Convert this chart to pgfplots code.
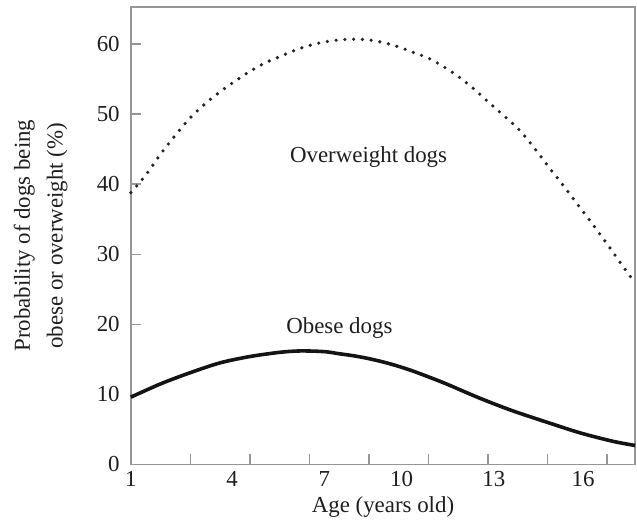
\documentclass[border=0pt]{standalone}
\usepackage{fontspec}
\setmainfont{Liberation Serif}
\usepackage{pgfplots}
\pgfplotsset{compat=1.18}
\definecolor{axgray}{RGB}{150,150,150}
\definecolor{txt}{RGB}{30,30,30}
\begin{document}
\begin{tikzpicture}
\begin{axis}[
  scale only axis, width=505bp, height=458bp,
  xmin=1, xmax=17.95, ymin=0, ymax=65.3,
  clip=false,
  font=\fontsize{23}{33}\selectfont,
  axis line style={axgray, line width=1.8bp},
  every tick/.style={axgray, line width=1.5bp},
  tick align=inside, tick pos=left,
  major tick length=10bp,
  xtick={3,5,7,9,11,13,15,17},
  xticklabels={,,,,,,,,},
  extra x ticks={1,4.4,7.5,10.1,13.2,16.2},
  extra x tick labels={1,4,7,10,13,16},
  extra x tick style={major tick length=0pt},
  ytick={0,10,20,30,40,50,60},
  /pgf/number format/assume math mode=true,
  xticklabel style={inner sep=0pt, yshift=-7bp, txt, font=\fontsize{23}{27}\selectfont},
  yticklabel style={inner sep=0pt, xshift=-11bp, txt, font=\fontsize{23}{27}\selectfont},
  xlabel={Age (years old)},
  xlabel style={at={(axis description cs:0.5,0)}, anchor=base, yshift=-48bp, txt, font=\fontsize{23}{27}\selectfont},
  ylabel={Probability of dogs being\\obese or overweight (\%)},
  ylabel style={align=center, at={(axis description cs:-0.125,0.5)}, anchor=south, inner sep=0pt, txt, font=\fontsize{23}{33}\selectfont},
]
\addplot[color={rgb,255:red,35;green,35;blue,35}, line width=3.6bp, line cap=round, dash pattern=on 0bp off 8.8bp, smooth] coordinates {
(1.0,38.8) (1.5,41.3) (2.0,44.3) (2.5,47.0) (3.0,49.5) (3.5,51.5) (4.0,53.2) (4.5,54.7)
(5.0,56.1) (5.5,57.3) (6.0,58.2) (6.5,59.1) (7.0,59.8) (7.5,60.3) (8.0,60.6) (8.5,60.7)
(9.0,60.6) (9.5,60.2) (10.0,59.6) (10.5,58.8) (11.0,58.0) (11.5,56.8) (12.0,55.4) (12.5,53.7)
(13.0,51.8) (13.5,49.9) (14.0,48.0) (14.5,45.5) (15.0,42.7) (15.5,40.0) (16.0,37.2) (16.5,34.4)
(17.0,31.5) (17.5,28.5) (17.95,25.9)
};
\addplot[color={rgb,255:red,20;green,20;blue,20}, line width=3.6bp, smooth] coordinates {
(1.0,9.6) (2.0,11.5) (3.0,13.1) (4.0,14.5) (5.0,15.4) (6.0,16.0) (6.7,16.2) (7.5,16.1)
(8.0,15.8) (8.5,15.5) (9.0,15.1) (9.5,14.6) (10.0,14.0) (10.5,13.3) (11.0,12.5) (11.6,11.5)
(12.7,9.5) (13.8,7.7) (15.0,6.0) (16.1,4.5) (17.2,3.3) (17.95,2.7)
};
\node[txt, font=\fontsize{23}{27}\selectfont, inner sep=0pt] at (axis cs:8.99,43.9) {Overweight dogs};
\node[txt, font=\fontsize{23}{27}\selectfont, inner sep=0pt] at (axis cs:8.01,19.5) {Obese dogs};
\path (rel axis cs:0,0) ++(-131bp,-58bp);
\path (rel axis cs:1,1) ++(1bp,7bp);
\end{axis}
\end{tikzpicture}
\end{document}
